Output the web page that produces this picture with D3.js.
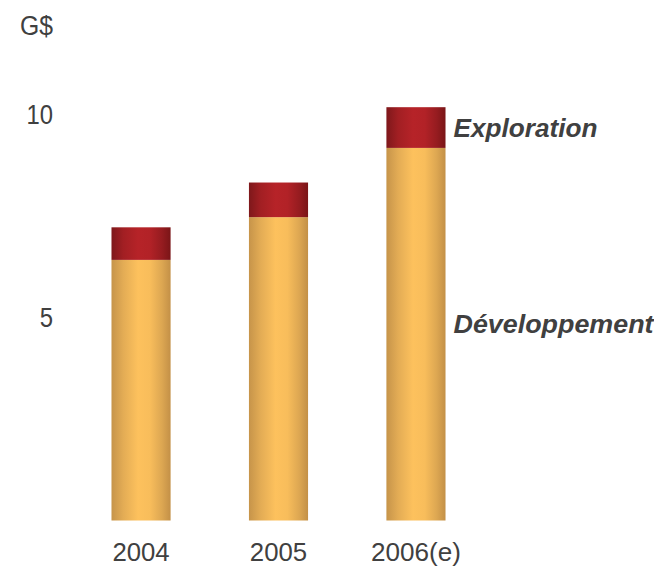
<!DOCTYPE html>
<html><head><meta charset="utf-8">
<script src="https://cdn.jsdelivr.net/npm/d3@7"></script>
<style>body{margin:0;background:#fff}svg{display:block}</style>
</head><body>
<script>
const categories = ["2004", "2005", "2006(e)"];
const developpement = [6.4, 7.45, 9.15];
const exploration = [0.8, 0.85, 1.0];
const yTicks = [5, 10];
const unitLabel = "G$";
const seriesNames = ["Exploration", "Développement"];

const W = 654, H = 566;
const svg = d3.select("body").append("svg").attr("width", W).attr("height", H);
const defs = svg.append("defs");
function grad(id, stops) {
  const g = defs.append("linearGradient").attr("id", id).attr("x1", "0%").attr("x2", "100%").attr("y1", "0%").attr("y2", "0%");
  stops.forEach(s => g.append("stop").attr("offset", s[0]).attr("stop-color", s[1]));
}
grad("gold", [["0%", "#c6944a"], ["20%", "#e3ac55"], ["45%", "#fdc15d"], ["65%", "#f8bd5b"], ["85%", "#dda752"], ["100%", "#c39047"]]);
grad("red", [["0%", "#7e181b"], ["20%", "#a21f23"], ["45%", "#b62328"], ["65%", "#b22227"], ["85%", "#961c20"], ["100%", "#7a1517"]]);

const x = d3.scaleBand().domain(categories).range([73, 484]).paddingInner(0.57).paddingOuter(0.28);
const y = d3.scaleLinear().domain([0, 10]).range([520.5, 113.3]);

const font = "'Liberation Sans', Arial, sans-serif";
const txt = "#404040";

const stack = categories.map((c, i) => ({ c, d: developpement[i], e: exploration[i] }));
const g = svg.append("g");
g.selectAll("rect.dev").data(stack).join("rect")
  .attr("x", d => x(d.c)).attr("width", x.bandwidth())
  .attr("y", d => y(d.d)).attr("height", d => y(0) - y(d.d))
  .attr("fill", "url(#gold)");
g.selectAll("rect.exp").data(stack).join("rect")
  .attr("x", d => x(d.c)).attr("width", x.bandwidth())
  .attr("y", d => y(d.d + d.e)).attr("height", d => y(d.d) - y(d.d + d.e))
  .attr("fill", "url(#red)");

// y axis tick labels
const yAxis = d3.axisLeft(y).tickValues(yTicks).tickSize(0).tickPadding(0).tickFormat(d3.format("d"));
const ya = svg.append("g").attr("transform", "translate(53,0)").call(yAxis);
ya.select(".domain").remove();
ya.selectAll("text").attr("font-family", font).attr("font-size", 27).attr("fill", txt)
  .attr("dy", "0.36em")
  .attr("textLength", d => d >= 10 ? 26.5 : 13.3).attr("lengthAdjust", "spacingAndGlyphs");

// x axis labels
const xAxis = d3.axisBottom(x).tickSize(0).tickPadding(0);
const xa = svg.append("g").attr("transform", "translate(0,560.5)").call(xAxis);
xa.select(".domain").remove();
xa.selectAll("text").attr("font-family", font).attr("font-size", 26).attr("fill", txt)
  .attr("dy", 0)
  .attr("textLength", d => d.length > 4 ? 90 : 57.3).attr("lengthAdjust", "spacingAndGlyphs");

// unit label
svg.append("text").attr("x", 20).attr("y", 35).text(unitLabel)
  .attr("font-family", font).attr("font-size", 27).attr("fill", txt)
  .attr("textLength", 33).attr("lengthAdjust", "spacingAndGlyphs");

// series labels
const last = stack[stack.length - 1];
const lx = x(last.c) + x.bandwidth() + 8;
svg.append("text").attr("x", lx).attr("y", (y(last.d) + y(last.d + last.e)) / 2).attr("dy", "0.36em")
  .text(seriesNames[0]).attr("font-family", font).attr("font-size", 25).attr("font-weight", "bold")
  .attr("font-style", "italic").attr("fill", txt)
  .attr("textLength", 144).attr("lengthAdjust", "spacingAndGlyphs");
svg.append("text").attr("x", lx).attr("y", y(5) + 7).attr("dy", "0.36em")
  .text(seriesNames[1]).attr("font-family", font).attr("font-size", 25).attr("font-weight", "bold")
  .attr("font-style", "italic").attr("fill", txt)
  .attr("textLength", 200).attr("lengthAdjust", "spacingAndGlyphs");
</script>
</body></html>
